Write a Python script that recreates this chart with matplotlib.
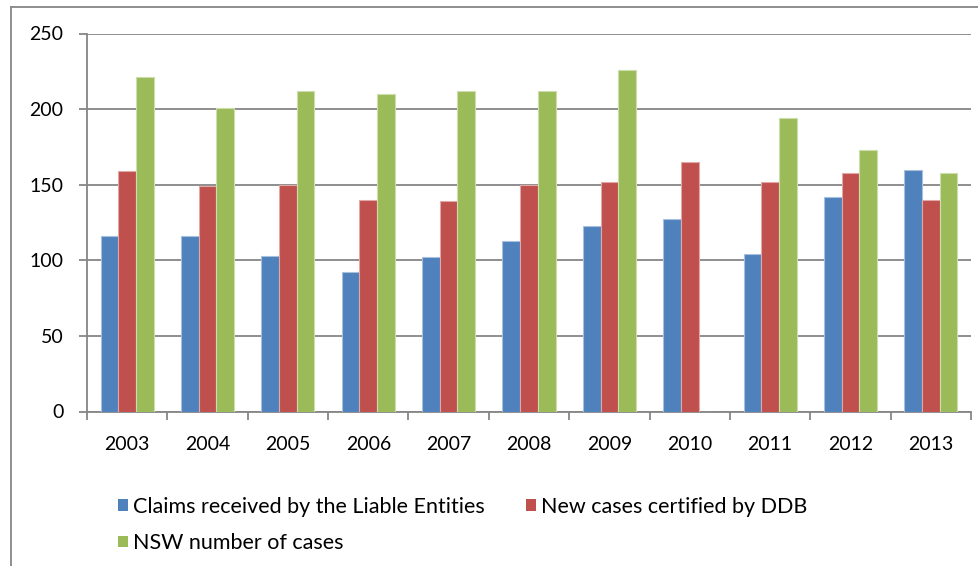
import numpy as np
import matplotlib
matplotlib.use("Agg")
import matplotlib.pyplot as plt
from matplotlib.lines import Line2D
from matplotlib.patches import Patch

plt.rcParams['font.family'] = ['Lato', 'DejaVu Sans']

# data
years = ['2003', '2004', '2005', '2006', '2007', '2008', '2009', '2010', '2011', '2012', '2013']
claims = [116, 116, 103, 92, 102, 113, 123, 127, 104, 142, 160]
certified = [159, 149, 150, 140, 139, 150, 152, 165, 152, 158, 140]
nsw_cases = [221, 201, 212, 210, 212, 212, 226, 0, 194, 173, 158]

series_names = ['Claims received by the Liable Entities',
                'New cases certified by DDB',
                'NSW number of cases']
colors = ['#4F81BD', '#C0504D', '#9BBB59']
edges = ['#A7C0DE', '#E0A8A6', '#CDDDAC']
grid_col = '#868686'

fig = plt.figure(figsize=(9.79, 5.66), dpi=100)
W, H = 979, 566
ax = fig.add_axes([87 / W, 1 - 411.5 / H, (971 - 87) / W, (411.5 - 33.5) / H])

x = np.arange(len(years))
bw = 0.22
for i, vals in enumerate([claims, certified, nsw_cases]):
    ax.bar(x + (i - 1) * bw, vals, width=bw, color=colors[i],
           edgecolor=edges[i], linewidth=0.8, zorder=3)

ax.set_xlim(-0.5, len(years) - 0.5)
ax.set_ylim(0, 250)
ax.set_yticks([0, 50, 100, 150, 200, 250])
ax.yaxis.grid(True, color=grid_col, linewidth=1.3, zorder=0)
ax.set_axisbelow(True)

for s in ['top', 'right']:
    ax.spines[s].set_visible(False)
for s in ['left', 'bottom']:
    ax.spines[s].set_color(grid_col)
    ax.spines[s].set_linewidth(1.3)

ax.set_xticks(x)
ax.set_xticklabels(years)
ax.set_xticks(np.arange(len(years) + 1) - 0.5, minor=True)
ax.tick_params(axis='x', which='major', length=0, pad=18, labelsize=14)
ax.tick_params(axis='x', which='minor', length=6, width=1.3, color=grid_col, direction='out')
ax.tick_params(axis='y', length=6, width=1.3, color=grid_col, pad=11, labelsize=14)

# legend: row 1 has the first two entries, row 2 the third
handles = [Patch(facecolor=c, edgecolor='none') for c in colors]
order = [0, 2, 1]
fig.legend([handles[k] for k in order], [series_names[k] for k in order],
           ncol=2, loc='upper left', bbox_to_anchor=(118 / W, 1 - 497 / H),
           frameon=False, fontsize=15.5, handlelength=0.47, handleheight=0.47,
           handletextpad=0.23, columnspacing=1.9, labelspacing=0.75,
           borderaxespad=0, borderpad=0)

# outer chart border
fig.add_artist(Line2D([11 / W, 11 / W], [0, 1 - 7 / H], color=grid_col, linewidth=1.3))
fig.add_artist(Line2D([11 / W, 1], [1 - 7 / H, 1 - 7 / H], color=grid_col, linewidth=1.3))

fig.savefig('out.png', dpi=100)
